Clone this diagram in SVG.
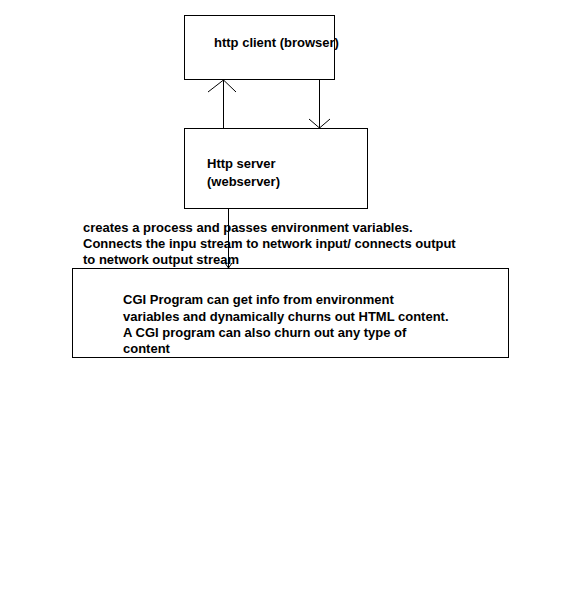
<svg xmlns="http://www.w3.org/2000/svg" width="570" height="600" viewBox="0 0 570 600">
<style>
rect{fill:#fff;stroke:#000;stroke-width:1}
line,polyline{stroke:#000;stroke-width:1;fill:none}
text{font-family:"Liberation Sans",Arial,sans-serif;font-weight:bold;font-size:13px;fill:#000}
</style>
<rect x="0" y="0" width="570" height="600" style="stroke:none"/>
<g id="client">
<rect x="184.5" y="15.5" width="150" height="64"/>
<text x="214" y="47">http client (browser)</text>
</g>
<g id="server">
<rect x="184.5" y="128.5" width="183" height="80"/>
<text x="207" y="168">Http server</text>
<text x="207" y="186">(webserver)</text>
</g>
<g id="cgi">
<rect x="72.5" y="268.5" width="436" height="89"/>
<text x="123" y="304">CGI Program can get info from environment</text>
<text x="123" y="321">variables and dynamically churns out HTML content.</text>
<text x="123" y="337">A CGI program can also churn out any type of</text>
<text x="123" y="353">content</text>
</g>
<g id="connectors">
<line x1="223.5" y1="128" x2="223.5" y2="80"/>
<polyline points="208,92 223.5,80 236,92"/>
<line x1="319.5" y1="80" x2="319.5" y2="128"/>
<polyline points="309,119 319.5,128 330,119"/>
<line x1="228.5" y1="209" x2="228.5" y2="268"/>
<polyline points="225,263 228.5,268 232,263"/>
<text x="83" y="232">creates a process and passes environment variables.</text>
<text x="83" y="248">Connects the inpu stream to network input/ connects output</text>
<text x="83" y="264">to network output stream</text>
</g>
</svg>
